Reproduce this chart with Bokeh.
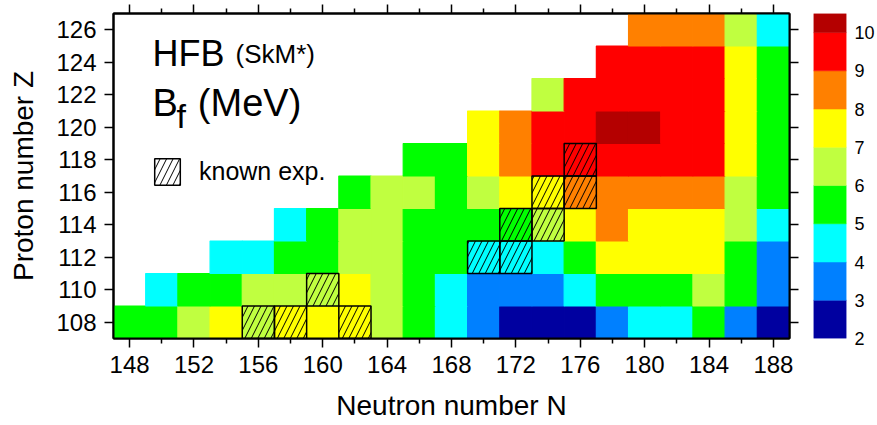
from bokeh.plotting import figure
from bokeh.models import (FixedTicker, LinearAxis, Label, Legend, LegendItem,
                          ColumnDataSource, Range1d, CustomLabelingPolicy)
from bokeh.layouts import row
from bokeh.embed import file_html
from bokeh.resources import INLINE
from bokeh.transform import linear_cmap

# ---------------- data ----------------
N_vals = list(range(148, 189, 2))          # neutron numbers (cell centres)
Z_vals = list(range(108, 127, 2))          # proton numbers (cell centres)

# fission barrier heights B_f (MeV), one list per Z row, aligned with N_vals
Bf_Z108 = [5.5, 5.5, 6.5, 7.5, 6.5, 7.5, 7.5, 7.5, 6.5, 5.5, 4.5, 3.5, 2.5, 2.5, 2.5, 3.5, 4.5, 4.5, 5.5, 3.5, 2.5]
Bf_Z110 = [None, 4.5, 5.5, 5.5, 6.5, 6.5, 6.5, 7.5, 6.5, 5.5, 4.5, 3.5, 3.5, 3.5, 4.5, 5.5, 5.5, 5.5, 6.5, 5.5, 3.5]
Bf_Z112 = [None, None, None, 4.5, 4.5, 5.5, 5.5, 6.5, 6.5, 5.5, 5.5, 4.5, 4.5, 4.5, 5.5, 7.5, 7.5, 7.5, 7.5, 5.5, 3.5]
Bf_Z114 = [None, None, None, None, None, 4.5, 5.5, 6.5, 6.5, 5.5, 5.5, 5.5, 5.5, 6.5, 7.5, 8.5, 7.5, 7.5, 7.5, 6.5, 4.5]
Bf_Z116 = [None] * 7 + [5.5, 6.5, 6.5, 5.5, 6.5, 7.5, 7.5, 8.5, 8.5, 8.5, 8.5, 8.5, 6.5, 5.5]
Bf_Z118 = [None] * 9 + [5.5, 5.5, 7.5, 8.5, 9.5, 9.5, 9.5, 9.5, 9.5, 9.5, 7.5, 5.5]
Bf_Z120 = [None] * 11 + [7.5, 8.5, 9.5, 9.5, 10.3, 10.3, 9.5, 9.5, 7.5, 5.5]
Bf_Z122 = [None] * 13 + [6.5, 9.5, 9.5, 9.5, 9.5, 9.5, 7.5, 5.5]
Bf_Z124 = [None] * 15 + [9.5, 9.5, 9.5, 9.5, 7.5, 5.5]
Bf_Z126 = [None] * 16 + [8.5, 8.5, 8.5, 6.5, 4.5]

Bf_rows = [Bf_Z108, Bf_Z110, Bf_Z112, Bf_Z114, Bf_Z116,
           Bf_Z118, Bf_Z120, Bf_Z122, Bf_Z124, Bf_Z126]

# experimentally known nuclei
N_exp = [156, 158, 162, 160, 170, 172, 172, 174, 174, 176, 176]
Z_exp = [108, 108, 108, 110, 112, 112, 114, 114, 116, 116, 118]

# colour scale
cbar_levels = [2, 3, 4, 5, 6, 7, 8, 9, 10, 10.5]
cbar_colors = ["#0000a0", "#0080ff", "#00ffff", "#00ff00", "#c0ff40",
               "#ffff00", "#ff8000", "#ff0000", "#b40000"]
cbar_ticks = [2, 3, 4, 5, 6, 7, 8, 9, 10]

x_major = list(range(148, 189, 4))
x_minor = list(range(150, 189, 4))

# ---------------- build ----------------
palette = [c for c in cbar_colors for _ in range(2)][:-1]   # 0.5-MeV slots, 2..10.5
cmap = linear_cmap("B", palette, low=2, high=10.5)

cells_N, cells_Z, cells_B = [], [], []
for z, vals in zip(Z_vals, Bf_rows):
    for n, v in zip(N_vals, vals):
        if v is not None:
            cells_N.append(n)
            cells_Z.append(z)
            cells_B.append(v)
src = ColumnDataSource(dict(N=cells_N, Z=cells_Z, B=cells_B))

FONT = "Liberation Sans"

p = figure(width=810, height=425,
           x_range=Range1d(147, 189), y_range=Range1d(107, 127),
           output_backend="svg", toolbar_location=None,
           min_border_left=113, min_border_right=21,
           min_border_top=13, min_border_bottom=87)
p.xgrid.visible = False
p.ygrid.visible = False
p.outline_line_color = "black"
p.outline_line_width = 2
p.background_fill_color = "white"
p.border_fill_color = "white"

p.rect(x="N", y="Z", width=2, height=2, source=src,
       fill_color=cmap, line_color=cmap, line_width=1.2)

hatch_r = p.rect(x=N_exp, y=Z_exp, width=2, height=2,
                 fill_color=None, line_color="black", line_width=1.5,
                 hatch_pattern="/", hatch_color="black",
                 hatch_scale=13, hatch_weight=1)

p.add_layout(LinearAxis(), "above")
p.add_layout(LinearAxis(), "right")

for ax in p.xaxis:
    ax.ticker = FixedTicker(ticks=x_major, minor_ticks=x_minor)
for ax in p.yaxis:
    ax.ticker = FixedTicker(ticks=Z_vals, minor_ticks=[])

for ax in list(p.xaxis) + list(p.yaxis):
    ax.axis_line_width = 2
    ax.axis_line_color = "black"
    ax.major_tick_in = 0
    ax.major_tick_out = 9
    ax.minor_tick_in = 0
    ax.minor_tick_out = 5
    ax.major_tick_line_width = 1.5
    ax.minor_tick_line_width = 1.5
    ax.major_tick_line_color = "black"
    ax.minor_tick_line_color = "black"
    ax.major_label_text_font = FONT
    ax.major_label_text_font_size = "24px"
    ax.major_label_text_color = "black"
    ax.axis_label_text_font = FONT
    ax.axis_label_text_font_style = "normal"
    ax.axis_label_text_font_size = "28px"
    ax.axis_label_text_color = "black"

# top & right: tick marks only (labels filtered out)
no_labels = CustomLabelingPolicy(code="if (false) { yield 0 }")
for ax in (p.above[0], p.right[0]):
    ax.major_label_policy = no_labels
    ax.major_label_text_font_size = "1px"
    ax.major_label_standoff = 0

p.below[0].axis_label = "Neutron number N"
p.below[0].major_label_standoff = 8
p.below[0].axis_label_standoff = 14
p.left[0].axis_label = "Proton number Z"
p.left[0].major_label_standoff = 8
p.left[0].axis_label_standoff = 14

# annotations
dy = 0.8
p.add_layout(Label(x=149.42, y=123.74 + dy, text="HFB", text_font=FONT,
                   text_font_size="36px", text_baseline="alphabetic", text_color="black"))
p.add_layout(Label(x=154.58, y=123.7 + dy, text="(SkM*)", text_font=FONT,
                   text_font_size="26px", text_baseline="alphabetic", text_color="black"))
p.add_layout(Label(x=149.42, y=120.72 + dy, text="B", text_font=FONT,
                   text_font_size="38px", text_baseline="alphabetic", text_color="black"))
p.add_layout(Label(x=150.91, y=119.92 + dy, text="f", text_font=FONT,
                   text_font_size="34px", text_baseline="alphabetic", text_color="black"))
p.add_layout(Label(x=152.24, y=120.72 + dy, text="(MeV)", text_font=FONT,
                   text_font_size="38px", text_baseline="alphabetic", text_color="black"))

legend = Legend(items=[LegendItem(label="known exp.", renderers=[hatch_r])],
                location=(38, 150), padding=0, margin=0, spacing=0,
                border_line_color=None, background_fill_alpha=0,
                glyph_width=32, glyph_height=33, label_height=33,
                label_standoff=16, label_text_font=FONT,
                label_text_font_size="25px", label_text_color="black")
p.add_layout(legend)

# ---------------- colour bar ----------------
cb = figure(width=67, height=425, x_range=Range1d(0, 1), y_range=Range1d(2, 10.5),
            output_backend="svg", toolbar_location=None,
            x_axis_location=None, y_axis_location="right",
            min_border_left=3, min_border_right=28,
            min_border_top=12, min_border_bottom=81)
cb.xgrid.visible = False
cb.ygrid.visible = False
cb.outline_line_color = None
cb.quad(left=0, right=1, bottom=cbar_levels[:-1], top=cbar_levels[1:],
        fill_color=cbar_colors, line_color=cbar_colors, line_width=0.5)
ya = cb.right[0]
ya.ticker = FixedTicker(ticks=cbar_ticks, minor_ticks=[])
ya.axis_line_color = None
ya.major_tick_line_color = None
ya.minor_tick_line_color = None
ya.major_tick_in = 0
ya.major_tick_out = 0
ya.major_label_standoff = 8
ya.major_label_text_font = FONT
ya.major_label_text_font_size = "18px"
ya.major_label_text_color = "black"

layout = row(p, cb, spacing=0)
open("out.html", "w").write(file_html(layout, INLINE))
